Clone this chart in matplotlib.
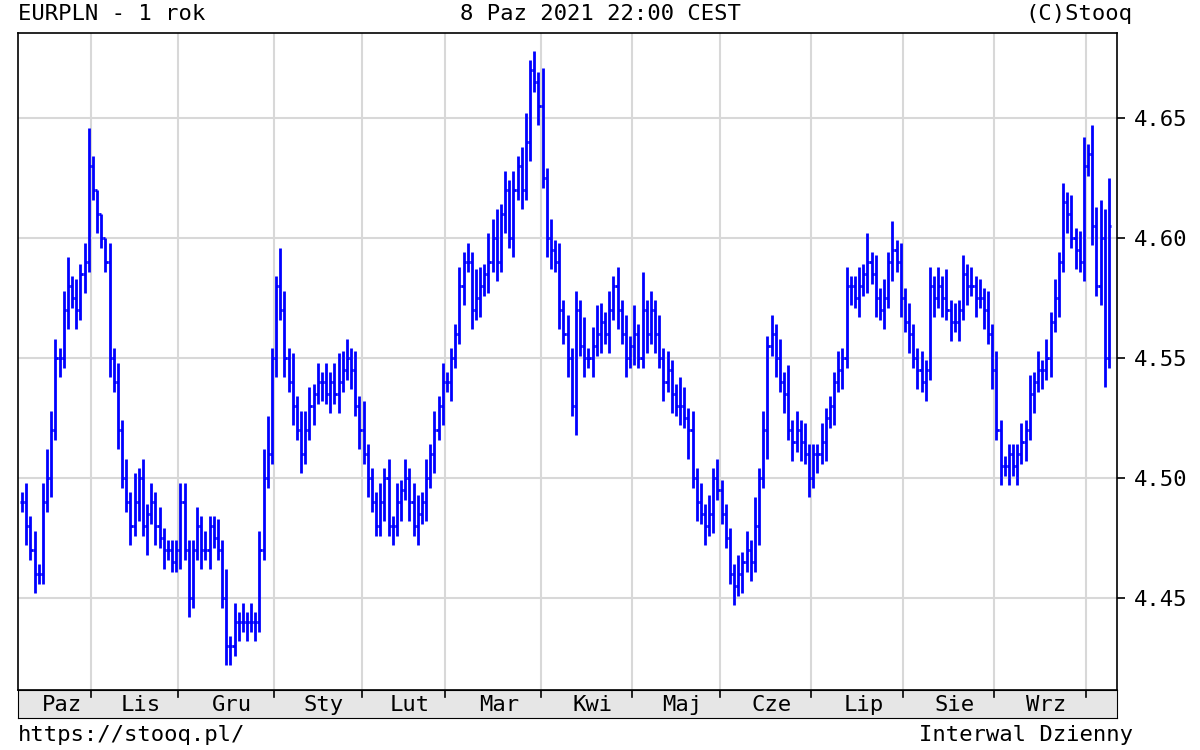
import numpy as np
import pandas as pd
import matplotlib
matplotlib.use("Agg")
import matplotlib.pyplot as plt

# EURPLN daily closes
close_oct20 = [4.49, 4.48, 4.47, 4.46, 4.46, 4.49, 4.50, 4.52, 4.55, 4.55, 4.57, 4.58, 4.575, 4.57, 4.585, 4.59, 4.63]
close_nov = [4.62, 4.61, 4.60, 4.59, 4.55, 4.54, 4.52, 4.50, 4.49, 4.48, 4.49, 4.50, 4.48, 4.485, 4.49, 4.48, 4.475, 4.47, 4.47, 4.465, 4.47]
close_dec = [4.49, 4.47, 4.45, 4.47, 4.48, 4.47, 4.47, 4.48, 4.475, 4.47, 4.45, 4.43, 4.43, 4.44, 4.44, 4.44, 4.44, 4.44, 4.44, 4.47, 4.50, 4.51, 4.55]
close_jan = [4.58, 4.57, 4.55, 4.54, 4.53, 4.52, 4.51, 4.52, 4.53, 4.535, 4.54, 4.54, 4.535, 4.54, 4.535, 4.54, 4.545, 4.55, 4.545, 4.53, 4.52]
close_feb = [4.51, 4.50, 4.49, 4.48, 4.49, 4.50, 4.48, 4.48, 4.49, 4.495, 4.50, 4.49, 4.48, 4.485, 4.49, 4.50, 4.51, 4.52, 4.53, 4.54]
close_mar = [4.54, 4.55, 4.56, 4.58, 4.59, 4.59, 4.57, 4.575, 4.58, 4.585, 4.59, 4.60, 4.59, 4.61, 4.62, 4.60, 4.62, 4.63, 4.62, 4.64, 4.67, 4.665, 4.655]
close_apr = [4.625, 4.60, 4.595, 4.59, 4.57, 4.56, 4.55, 4.53, 4.57, 4.555, 4.55, 4.55, 4.555, 4.56, 4.565, 4.56, 4.57, 4.58, 4.57, 4.56, 4.55, 4.555]
close_may = [4.56, 4.55, 4.57, 4.56, 4.57, 4.56, 4.55, 4.54, 4.545, 4.535, 4.53, 4.53, 4.525, 4.52, 4.50, 4.49, 4.485, 4.48, 4.485, 4.50, 4.495]
close_jun = [4.485, 4.475, 4.46, 4.455, 4.46, 4.465, 4.47, 4.465, 4.48, 4.50, 4.52, 4.555, 4.56, 4.55, 4.54, 4.535, 4.52, 4.515, 4.52, 4.515, 4.51, 4.50]
close_jul = [4.51, 4.51, 4.515, 4.525, 4.53, 4.54, 4.545, 4.55, 4.58, 4.58, 4.575, 4.58, 4.585, 4.59, 4.585, 4.575, 4.57, 4.575, 4.59, 4.595, 4.59, 4.575]
close_aug = [4.565, 4.56, 4.55, 4.545, 4.54, 4.545, 4.58, 4.575, 4.58, 4.575, 4.57, 4.565, 4.565, 4.57, 4.585, 4.58, 4.58, 4.575, 4.575, 4.57, 4.56, 4.545]
close_sep = [4.52, 4.505, 4.505, 4.51, 4.505, 4.51, 4.515, 4.52, 4.535, 4.54, 4.545, 4.545, 4.55, 4.565, 4.575, 4.59, 4.615, 4.61, 4.60, 4.595, 4.59, 4.63]
close_oct21 = [4.635, 4.605, 4.58, 4.60, 4.55, 4.605]

# wick lengths beyond the open/close body, in steps of 0.004
wick_up = ("12121232212312124" "1000212121312121211112" "21121211213121212123411"
           "4213122212121232212131" "11212121212212121211" "12121321323121212312141"
           "21212121312321212121314" "121212113212121212111" "1212131212121312121112"
           "1112121121312121312121" "1212121312121212121211" "1112121212121212123132"
           "435242")
wick_down = ("12121112121212121" "1211212112121312121112" "12112121112212121211112"
             "12121211212121211212121" "11212121212121212121" "1212121212121212121212"
             "2121213121212121212121" "121212121213121212111" "1212121213121212121212"
             "1212121212121212121212" "1212121212121212121212" "1212121212121212121212"
             "123151")

month_labels = ["Paz", "Lis", "Gru", "Sty", "Lut", "Mar", "Kwi", "Maj", "Cze", "Lip", "Sie", "Wrz"]
yticks = [4.45, 4.50, 4.55, 4.60, 4.65]

closes = np.array(close_oct20 + close_nov + close_dec + close_jan + close_feb + close_mar + close_apr
                  + close_may + close_jun + close_jul + close_aug + close_sep + close_oct21)
n = len(closes)
dates = pd.bdate_range(end="2021-10-08", periods=n)
opens = np.concatenate([[closes[0]], closes[:-1]])
up = np.array([int(c) for c in wick_up.ljust(n, "1")[:n]]) * 0.004
dn = np.array([int(c) for c in wick_down.ljust(n, "1")[:n]]) * 0.004
highs = np.maximum(opens, closes) + up
lows = np.minimum(opens, closes) - dn
x = np.arange(n)

fig = plt.figure(figsize=(12, 7.5), dpi=100)
ax = fig.add_axes([0.015, 0.08, 0.916, 0.876])
mono = "DejaVu Sans Mono"
blue = "#0000ff"

# month boundaries
starts = [i for i in range(1, n) if dates[i].month != dates[i - 1].month]
for s in starts:
    ax.axvline(s - 0.5, color="#d8d8d8", lw=1.5, zorder=0)
for t in yticks:
    ax.axhline(t, color="#d8d8d8", lw=1.5, zorder=0)

ax.vlines(x, lows, highs, color=blue, lw=2)
ax.hlines(opens, x - 0.5, x, color=blue, lw=2)
ax.hlines(closes, x, x + 0.5, color=blue, lw=2)

ax.set_xlim(-1, n + 1)
ax.set_ylim(4.4117, 4.6854)
ax.set_xticks([])
ax.yaxis.tick_right()
ax.set_yticks(yticks)
ax.set_yticklabels([f"{t:.2f}" for t in yticks], fontsize=16, family=mono)
ax.tick_params(axis="y", length=6, width=1.2, pad=6)
for sp in ax.spines.values():
    sp.set_linewidth(1.2)

# month band
bx = fig.add_axes([0.015, 0.0427, 0.916, 0.0373], sharex=ax)
bx.set_facecolor("#e6e6e6")
bx.set_yticks([])
bx.tick_params(axis="x", length=0)
bounds = [0] + starts + [n]
for k, lab in enumerate(month_labels):
    bx.text((bounds[k] + bounds[k + 1]) / 2 + 1, 0.45, lab, ha="center", va="center",
            fontsize=16, family=mono)
for s in starts:
    bx.plot([s - 0.5, s - 0.5], [0.75, 1], color="black", lw=1.2)
bx.set_ylim(0, 1)
bx.set_xticks([])

fig.text(0.015, 0.982, "EURPLN - 1 rok", fontsize=16, family=mono, va="center")
fig.text(0.5, 0.982, "8 Paz 2021 22:00 CEST", fontsize=16, family=mono, va="center", ha="center")
fig.text(0.944, 0.982, "(C)Stooq", fontsize=16, family=mono, va="center", ha="right")
fig.text(0.015, 0.02, "https://stooq.pl/", fontsize=16, family=mono, va="center")
fig.text(0.944, 0.02, "Interwal Dzienny", fontsize=16, family=mono, va="center", ha="right")

fig.savefig("out.png", dpi=100)
